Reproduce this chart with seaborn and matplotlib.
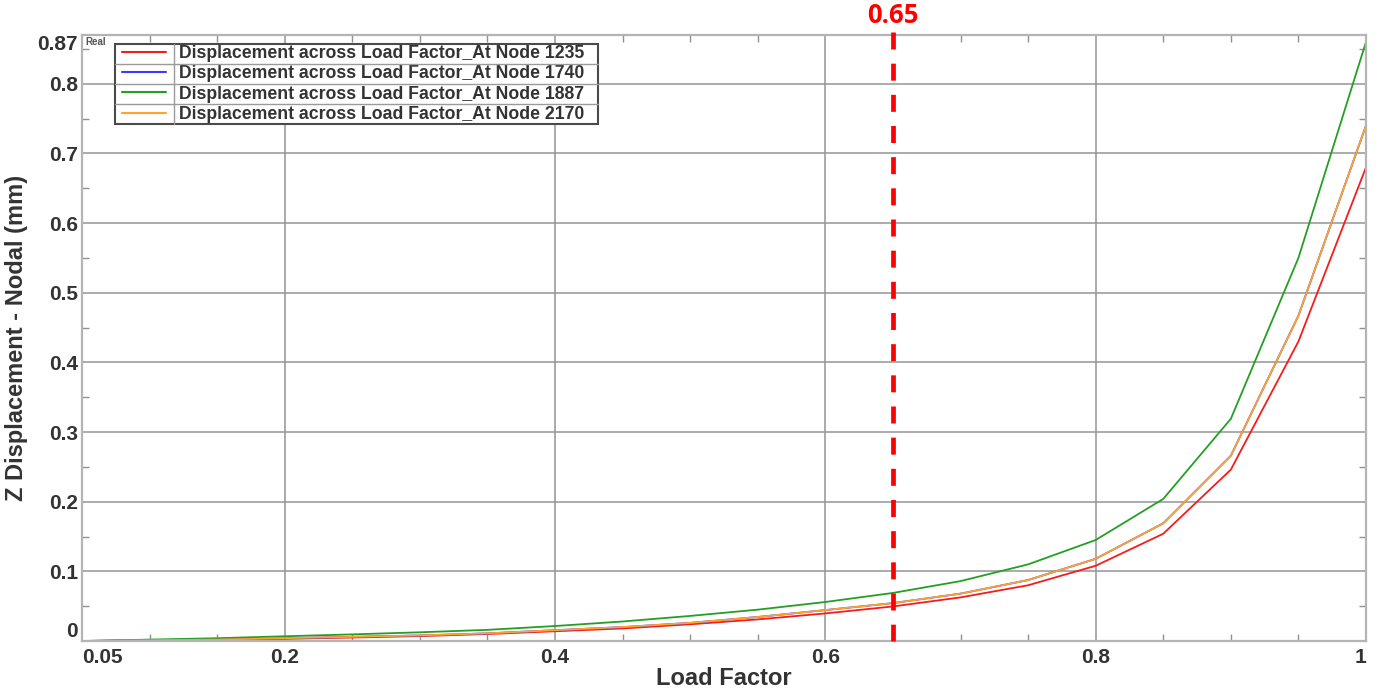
import numpy as np
import pandas as pd
import matplotlib
matplotlib.use("Agg")
import matplotlib.pyplot as plt
from matplotlib.lines import Line2D
from matplotlib.patches import Rectangle
import seaborn as sns

# ---------------- data ----------------
load_factor = [0.05, 0.10, 0.15, 0.20, 0.25, 0.30, 0.35, 0.40, 0.45, 0.50,
               0.55, 0.60, 0.65, 0.70, 0.75, 0.80, 0.85, 0.90, 0.95, 1.00]
node_1235 = [0.000, 0.001, 0.002, 0.003, 0.005, 0.007, 0.010, 0.014, 0.018, 0.024,
             0.031, 0.0396, 0.0496, 0.0626, 0.080, 0.108, 0.154, 0.246, 0.430, 0.680]
node_1740 = [0.000, 0.001, 0.002, 0.004, 0.006, 0.008, 0.011, 0.0155, 0.020, 0.026,
             0.0345, 0.0444, 0.0544, 0.068, 0.0875, 0.118, 0.169, 0.266, 0.467, 0.740]
node_1887 = [0.000, 0.002, 0.004, 0.0068, 0.0095, 0.0125, 0.016, 0.0215, 0.028, 0.036,
             0.045, 0.056, 0.069, 0.086, 0.110, 0.145, 0.204, 0.319, 0.550, 0.860]
node_2170 = [0.000, 0.001, 0.002, 0.004, 0.006, 0.008, 0.011, 0.0155, 0.020, 0.026,
             0.0345, 0.0444, 0.0544, 0.068, 0.0875, 0.118, 0.169, 0.266, 0.467, 0.740]
series_names = ["Displacement across Load Factor_At Node 1235",
                "Displacement across Load Factor_At Node 1740",
                "Displacement across Load Factor_At Node 1887",
                "Displacement across Load Factor_At Node 2170"]
series_colors = ["#f51c1c", "#3b3bff", "#23a023", "#ffa22e"]
threshold = 0.65
x_ticks = [0.05, 0.2, 0.4, 0.6, 0.8, 1.0]
x_tick_labels = ["0.05", "0.2", "0.4", "0.6", "0.8", "1"]
x_minor = [0.1, 0.15, 0.25, 0.3, 0.35, 0.45, 0.5, 0.55, 0.65, 0.7, 0.75, 0.85, 0.9, 0.95]
y_ticks = [0.0, 0.1, 0.2, 0.3, 0.4, 0.5, 0.6, 0.7, 0.8, 0.87]
y_tick_labels = ["0", "0.1", "0.2", "0.3", "0.4", "0.5", "0.6", "0.7", "0.8", "0.87"]
y_minor = [0.05, 0.15, 0.25, 0.35, 0.45, 0.55, 0.65, 0.75, 0.85]

df = pd.DataFrame({
    "Load Factor": load_factor * 4,
    "disp": node_1235 + node_1740 + node_1887 + node_2170,
    "series": sum([[n] * len(load_factor) for n in series_names], []),
})

# ---------------- style ----------------
sns.set_theme(style="white")
plt.rcParams["font.family"] = ["Liberation Sans", "DejaVu Sans"]
plt.rcParams["font.weight"] = "bold"

fig = plt.figure(figsize=(13.8, 6.91), dpi=100)
ax = fig.add_axes([82 / 1380, 1 - 641 / 691, (1366 - 82) / 1380, (641 - 35) / 691])

sns.lineplot(data=df, x="Load Factor", y="disp", hue="series",
             hue_order=series_names, palette=dict(zip(series_names, series_colors)),
             linewidth=1.3, ax=ax, legend=True)

ax.set_xlim(0.05, 1.0)
ax.set_ylim(0.0, 0.87)

txt_col = "#333333"
ax.set_xticks(x_ticks)
ax.set_xticklabels(x_tick_labels, fontsize=15, fontweight="bold", color=txt_col)
ax.set_yticks(y_ticks)
ax.set_yticklabels(y_tick_labels, fontsize=15, fontweight="bold", color=txt_col)
xl = ax.get_xticklabels()
xl[0].set_ha("left")
xl[-1].set_ha("right")
yl = ax.get_yticklabels()
yl[0].set_va("bottom")
yl[-1].set_va("top")

ax.set_xticks(x_minor, minor=True)
ax.set_yticks(y_minor, minor=True)
ax.tick_params(axis="x", which="major", length=0, pad=5)
ax.tick_params(axis="y", which="major", length=0, pad=3)
ax.tick_params(which="minor", direction="in", length=5, width=1, color="#909090",
               top=True, right=True, bottom=True, left=True)

ax.grid(True, which="major", color="#959595", linewidth=1.1)
ax.xaxis.get_gridlines()[0].set_visible(False)
ax.xaxis.get_gridlines()[-1].set_visible(False)
ax.yaxis.get_gridlines()[0].set_visible(False)
ax.yaxis.get_gridlines()[-1].set_visible(False)
for s in ax.spines.values():
    s.set_visible(True)
    s.set_color("#b4b4b4")
    s.set_linewidth(1.6)

ax.set_xlabel("Load Factor", fontsize=17, fontweight="bold", color=txt_col, labelpad=0)
ax.set_ylabel("Z Displacement - Nodal (mm)", fontsize=17, fontweight="bold",
              color=txt_col, labelpad=7)

# threshold line + label
ax.plot([threshold, threshold], [0.875, 0.0], color="#ff0000", linewidth=3.4,
        linestyle=(0, (3.6, 3.0)), clip_on=False, zorder=5, solid_capstyle="butt",
        dash_capstyle="butt")
ax.text(threshold, 0.879, f"{threshold:.2f}", transform=ax.transData, ha="center",
        va="bottom", color="#ff0000", fontsize=18.5, fontweight="bold",
        family=["Open Sans", "DejaVu Sans"])

ax.text(0.003, 0.997, "Real", transform=ax.transAxes, ha="left", va="top",
        fontsize=7, fontweight="bold", color="#555555")

# legend (table-like box)
handles, labels = ax.get_legend_handles_labels()
leg = ax.legend(handles, labels, loc="upper left", bbox_to_anchor=(0.0315, 0.983),
                borderaxespad=0, frameon=False, handlelength=2.45, handletextpad=0.75,
                labelspacing=0.18, borderpad=0.0,
                prop={"weight": "bold", "size": 12.7})
for t in leg.get_texts():
    t.set_color(txt_col)
for h in leg.get_lines():
    h.set_linewidth(1.5)

fig.canvas.draw()
inv = fig.transFigure.inverted()
tb = [t.get_window_extent() for t in leg.get_texts()]
hb = [h.get_window_extent() for h in leg.get_lines()]
pitch = tb[0].y0 - tb[1].y0
x0 = min(b.x0 for b in hb) - 7
x1 = max(b.x1 for b in tb) + 14
y1 = (tb[0].y0 + tb[0].y1) / 2 + pitch / 2
y0 = (tb[-1].y0 + tb[-1].y1) / 2 - pitch / 2
vx = tb[0].x0 - 5


def fpt(px, py):
    return inv.transform((px, py))


for k in range(1, len(tb)):
    ym = y1 - k * pitch
    a, b = fpt(x0, ym), fpt(x1, ym)
    fig.add_artist(Line2D([a[0], b[0]], [a[1], b[1]], color="#9a9a9a", linewidth=1.0, zorder=6))
a, b = fpt(vx, y0), fpt(vx, y1)
fig.add_artist(Line2D([a[0], b[0]], [a[1], b[1]], color="#9a9a9a", linewidth=1.0, zorder=6))
lo, hi = fpt(x0, y0), fpt(x1, y1)
bg = Rectangle((lo[0], lo[1]), hi[0] - lo[0], hi[1] - lo[1], transform=fig.transFigure,
               facecolor="white", edgecolor="#4a4a4a", linewidth=1.5, zorder=4.5)
ax.add_artist(bg)
bg.set_clip_on(False)
leg.set_zorder(7)

fig.savefig("out.png", dpi=100)
